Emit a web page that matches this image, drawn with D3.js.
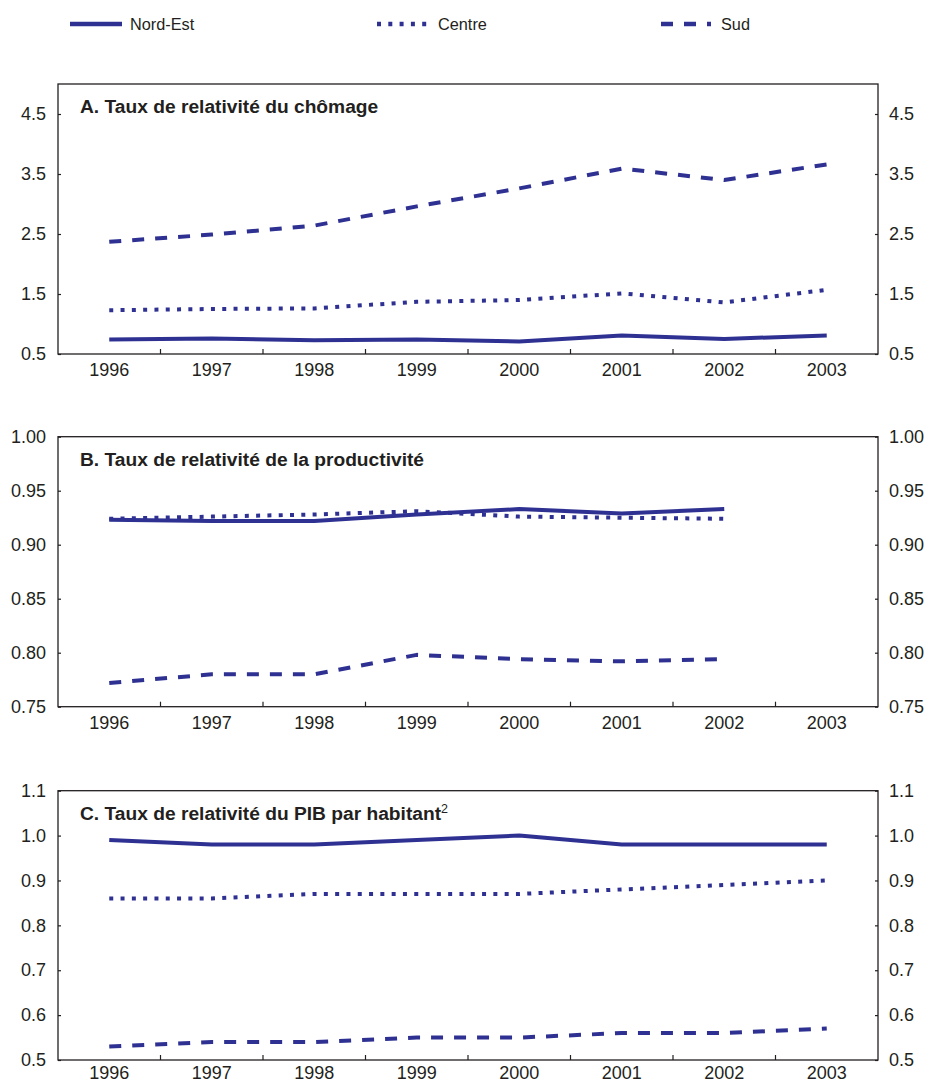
<!DOCTYPE html>
<html>
<head>
<meta charset="utf-8">
<script src="https://cdn.jsdelivr.net/npm/d3@7"></script>
<style>
  html, body { margin: 0; padding: 0; background: #fff; }
  svg { display: block; font-family: "Liberation Sans", Arial, Helvetica, sans-serif; }
</style>
</head>
<body>
<svg id="chart" width="928" height="1084"></svg>
<script>
// ---------- Data ----------
const years = ["1996", "1997", "1998", "1999", "2000", "2001", "2002", "2003"];
const seriesNames = ["Nord-Est", "Centre", "Sud"];

const chomageNordEst = [0.74, 0.76, 0.73, 0.74, 0.71, 0.81, 0.75, 0.81];
const chomageCentre  = [1.23, 1.25, 1.26, 1.37, 1.40, 1.51, 1.36, 1.57];
const chomageSud     = [2.37, 2.49, 2.64, 2.96, 3.26, 3.59, 3.40, 3.66];

const productiviteNordEst = [0.923, 0.922, 0.922, 0.928, 0.933, 0.929, 0.933, null];
const productiviteCentre  = [0.924, 0.926, 0.928, 0.931, 0.926, 0.925, 0.924, null];
const productiviteSud     = [0.772, 0.780, 0.780, 0.798, 0.794, 0.792, 0.794, null];

const pibNordEst = [0.99, 0.98, 0.98, 0.99, 1.00, 0.98, 0.98, 0.98];
const pibCentre  = [0.86, 0.86, 0.87, 0.87, 0.87, 0.88, 0.89, 0.90];
const pibSud     = [0.53, 0.54, 0.54, 0.55, 0.55, 0.56, 0.56, 0.57];

const ticksA = [0.5, 1.5, 2.5, 3.5, 4.5];
const ticksB = [0.75, 0.80, 0.85, 0.90, 0.95, 1.00];
const ticksC = [0.5, 0.6, 0.7, 0.8, 0.9, 1.0, 1.1];

const titleA = "A. Taux de relativité du chômage";
const titleB = "B. Taux de relativité de la productivité";
const titleC = "C. Taux de relativité du PIB par habitant";
const titleCSup = "2";

// ---------- Styles ----------
const lineColor = "#2e3192";
const textColor = "#231f20";
const styles = {
  "Nord-Est": { dash: null },
  "Centre":   { dash: "4,7.3" },
  "Sud":      { dash: "12,11" }
};

const svg = d3.select("#chart");
const left = 58, right = 878;

const x = d3.scaleBand().domain(years).range([left, right]).padding(0);

// ---------- Legend ----------
const legendItems = [
  { name: seriesNames[0], x0: 70,  x1: 122, tx: 130 },
  { name: seriesNames[1], x0: 377, x1: 430, tx: 438 },
  { name: seriesNames[2], x0: 661, x1: 711, tx: 721 }
];
const lg = svg.append("g");
legendItems.forEach(it => {
  lg.append("line")
    .attr("x1", it.x0).attr("x2", it.x1)
    .attr("y1", 24).attr("y2", 24)
    .attr("stroke", lineColor).attr("stroke-width", 4.5)
    .attr("stroke-dasharray", styles[it.name].dash);
  lg.append("text")
    .attr("x", it.tx).attr("y", 24).attr("dy", "0.35em")
    .attr("font-size", 16.3).attr("fill", textColor)
    .text(it.name);
});

// ---------- Panels ----------
function panel(cfg) {
  const { top, bottom, domain, ticks, fmt, series, title, sup, xPad } = cfg;
  const y = d3.scaleLinear().domain(domain).range([bottom, top]);
  const g = svg.append("g");

  // Left axis
  const axL = d3.axisLeft(y).tickValues(ticks).tickFormat(fmt).tickSize(-3).tickPadding(12);
  const gl = g.append("g").attr("transform", `translate(${left},0)`).call(axL);
  // Right axis
  const axR = d3.axisRight(y).tickValues(ticks).tickFormat(fmt).tickSize(-3).tickPadding(11);
  const gr = g.append("g").attr("transform", `translate(${right},0)`).call(axR);
  [gl, gr].forEach(a => {
    a.select(".domain").remove();
    a.selectAll("line").attr("stroke", textColor).attr("stroke-width", 1.2);
    a.selectAll("text").attr("font-size", 18).attr("fill", textColor)
      .attr("font-family", "'Liberation Sans', Arial, sans-serif");
  });

  // Bottom axis labels
  const axB = d3.axisBottom(x).tickSize(0).tickPadding(xPad);
  const gb = g.append("g").attr("transform", `translate(0,${bottom})`).call(axB);
  gb.select(".domain").remove();
  gb.selectAll("text").attr("font-size", 18).attr("fill", textColor)
    .attr("font-family", "'Liberation Sans', Arial, sans-serif");

  // Boundary ticks (inward)
  g.append("g").selectAll("line")
    .data(years.slice(1))
    .join("line")
    .attr("x1", d => x(d)).attr("x2", d => x(d))
    .attr("y1", bottom).attr("y2", bottom - 5)
    .attr("stroke", textColor).attr("stroke-width", 1.2);

  // Frame
  g.append("rect")
    .attr("x", left).attr("y", top)
    .attr("width", right - left).attr("height", bottom - top)
    .attr("fill", "none").attr("stroke", textColor).attr("stroke-width", 1.3);

  // Lines
  const line = d3.line()
    .defined(d => d.v != null)
    .x(d => x(d.year) + x.bandwidth() / 2)
    .y(d => y(d.v));
  series.forEach(s => {
    const pts = years.map((yr, i) => ({ year: yr, v: s.values[i] }));
    g.append("path")
      .attr("d", line(pts))
      .attr("fill", "none")
      .attr("stroke", lineColor)
      .attr("stroke-width", 4)
      .attr("stroke-linejoin", "round")
      .attr("stroke-dasharray", styles[s.name].dash);
  });

  // Title
  const t = g.append("text")
    .attr("x", 80).attr("y", top + 29)
    .attr("font-size", 19.2).attr("font-weight", "bold").attr("fill", textColor)
    .text(title);
  if (sup) {
    t.append("tspan").attr("dy", -7).attr("font-size", 12.5).attr("font-weight", "normal").text(sup);
  }
}

panel({
  top: 84, bottom: 354, domain: [0.5, 5.0], ticks: ticksA, fmt: d3.format(".1f"),
  series: [
    { name: "Nord-Est", values: chomageNordEst },
    { name: "Centre", values: chomageCentre },
    { name: "Sud", values: chomageSud }
  ],
  title: titleA, xPad: 9
});

panel({
  top: 436.7, bottom: 706.7, domain: [0.75, 1.00], ticks: ticksB, fmt: d3.format(".2f"),
  series: [
    { name: "Nord-Est", values: productiviteNordEst },
    { name: "Centre", values: productiviteCentre },
    { name: "Sud", values: productiviteSud }
  ],
  title: titleB, xPad: 9.5
});

panel({
  top: 790.7, bottom: 1060, domain: [0.5, 1.1], ticks: ticksC, fmt: d3.format(".1f"),
  series: [
    { name: "Nord-Est", values: pibNordEst },
    { name: "Centre", values: pibCentre },
    { name: "Sud", values: pibSud }
  ],
  title: titleC, sup: titleCSup, xPad: 6.3
});
</script>
</body>
</html>
